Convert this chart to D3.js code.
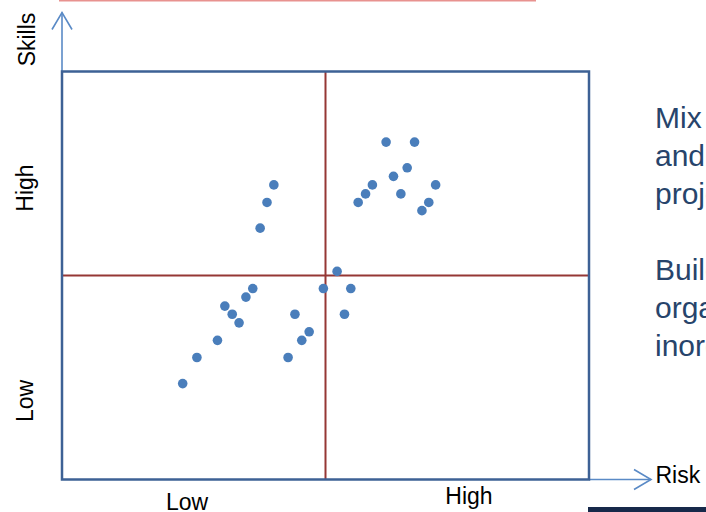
<!DOCTYPE html>
<html>
<head>
<meta charset="utf-8">
<script src="https://cdn.jsdelivr.net/npm/d3@7"></script>
<style>
  html, body { margin: 0; padding: 0; background: #ffffff; overflow: hidden; }
  svg { display: block; font-family: "Liberation Sans", Arial, sans-serif; }
</style>
</head>
<body>
<svg id="chart" width="706" height="512"></svg>
<script>
// Project portfolio: risk (x) against skills (y), split into four quadrants
const risk   = [6.15, 6.69, 6.55, 6.29, 5.89, 7.09, 5.76, 6.43, 5.62, 6.96,
                6.83, 4.02, 3.89, 3.76, 5.22, 3.62, 3.49, 3.09, 3.23, 3.36,
                2.95, 2.56, 2.29, 4.96, 5.48, 5.36, 4.42, 4.69, 4.55, 4.29];
const skills = [8.27, 8.27, 7.64, 7.43, 7.22, 7.22, 7.00, 7.00, 6.79, 6.79,
                6.59, 7.22, 6.79, 6.16, 5.10, 4.68, 4.47, 4.25, 4.05, 3.84,
                3.41, 2.99, 2.35, 4.68, 4.68, 4.05, 4.05, 3.62, 3.41, 2.99];

const riskLabels   = ["Low", "High"];
const skillsLabels = ["Low", "High"];
const xTitle = "Risk";
const yTitle = "Skills";
const sideNotes = ["Mix of small", "and large", "projects", "", "Build the", "organization", "inorganically"];

const domainMin = 0, domainMax = 10, midpoint = 5;

const svg = d3.select("#chart");

const x = d3.scaleLinear().domain([domainMin, domainMax]).range([62, 589]);
const y = d3.scaleLinear().domain([domainMin, domainMax]).range([479.5, 71.5]);

// thin accent line along the top
svg.append("line")
  .attr("x1", 59).attr("x2", 536).attr("y1", 0.5).attr("y2", 0.5)
  .attr("stroke", "#e8928f").attr("stroke-width", 2);

// dark strip in the bottom-right corner
svg.append("rect")
  .attr("x", 588).attr("y", 507).attr("width", 118).attr("height", 5)
  .attr("fill", "#17294a");

// axis arrows
const arrowColor = "#5a8ac6";
svg.append("line")
  .attr("x1", x(domainMin)).attr("x2", x(domainMin))
  .attr("y1", y(domainMax)).attr("y2", 12.5)
  .attr("stroke", arrowColor).attr("stroke-width", 1.6);
svg.append("path")
  .attr("d", `M${x(domainMin) - 10},29.5L${x(domainMin)},12.5L${x(domainMin) + 10},29.5`)
  .attr("fill", "none").attr("stroke", arrowColor).attr("stroke-width", 1.6);

svg.append("line")
  .attr("x1", x(domainMax)).attr("x2", 651)
  .attr("y1", y(domainMin)).attr("y2", y(domainMin))
  .attr("stroke", arrowColor).attr("stroke-width", 1.6);
svg.append("path")
  .attr("d", `M634,${y(domainMin) - 10}L651,${y(domainMin)}L634,${y(domainMin) + 10}`)
  .attr("fill", "none").attr("stroke", arrowColor).attr("stroke-width", 1.6);

// quadrant dividers
svg.append("line")
  .attr("x1", x(midpoint)).attr("x2", x(midpoint))
  .attr("y1", y(domainMax)).attr("y2", y(domainMin))
  .attr("stroke", "#953735").attr("stroke-width", 2);
svg.append("line")
  .attr("x1", x(domainMin)).attr("x2", x(domainMax))
  .attr("y1", y(midpoint)).attr("y2", y(midpoint))
  .attr("stroke", "#953735").attr("stroke-width", 2);

// plot frame
svg.append("rect")
  .attr("x", x(domainMin)).attr("y", y(domainMax))
  .attr("width", x(domainMax) - x(domainMin))
  .attr("height", y(domainMin) - y(domainMax))
  .attr("fill", "none").attr("stroke", "#3d6195").attr("stroke-width", 2.5);

// projects
const points = risk.map((r, i) => ({ risk: r, skills: skills[i] }));
svg.append("g").selectAll("circle")
  .data(points)
  .join("circle")
  .attr("cx", d => x(d.risk))
  .attr("cy", d => y(d.skills))
  .attr("r", 4.8)
  .attr("fill", "#4a7ebb");

// axis labels
const labelSize = 23;
svg.append("text").text(riskLabels[0])
  .attr("x", 187).attr("y", 510).attr("text-anchor", "middle")
  .attr("font-size", labelSize).attr("fill", "#000");
svg.append("text").text(riskLabels[1])
  .attr("x", 469).attr("y", 504).attr("text-anchor", "middle")
  .attr("font-size", labelSize).attr("fill", "#000");

const rotated = [
  { text: yTitle, cx: 35, cy: 39.5 },
  { text: skillsLabels[1], cx: 33, cy: 188 },
  { text: skillsLabels[0], cx: 33, cy: 401 }
];
svg.append("g").selectAll("text")
  .data(rotated)
  .join("text")
  .text(d => d.text)
  .attr("transform", d => `translate(${d.cx},${d.cy}) rotate(-90)`)
  .attr("text-anchor", "middle")
  .attr("font-size", labelSize)
  .attr("fill", "#000");

svg.append("text").text(xTitle)
  .attr("x", 655.5).attr("y", 482.5)
  .attr("font-size", labelSize).attr("fill", "#000");

// notes on the right
svg.append("g").selectAll("text")
  .data(sideNotes)
  .join("text")
  .text(d => d)
  .attr("x", 655)
  .attr("y", (d, i) => 127.7 + i * 38.1)
  .attr("font-size", 30)
  .attr("fill", "#27446b");
</script>
</body>
</html>
